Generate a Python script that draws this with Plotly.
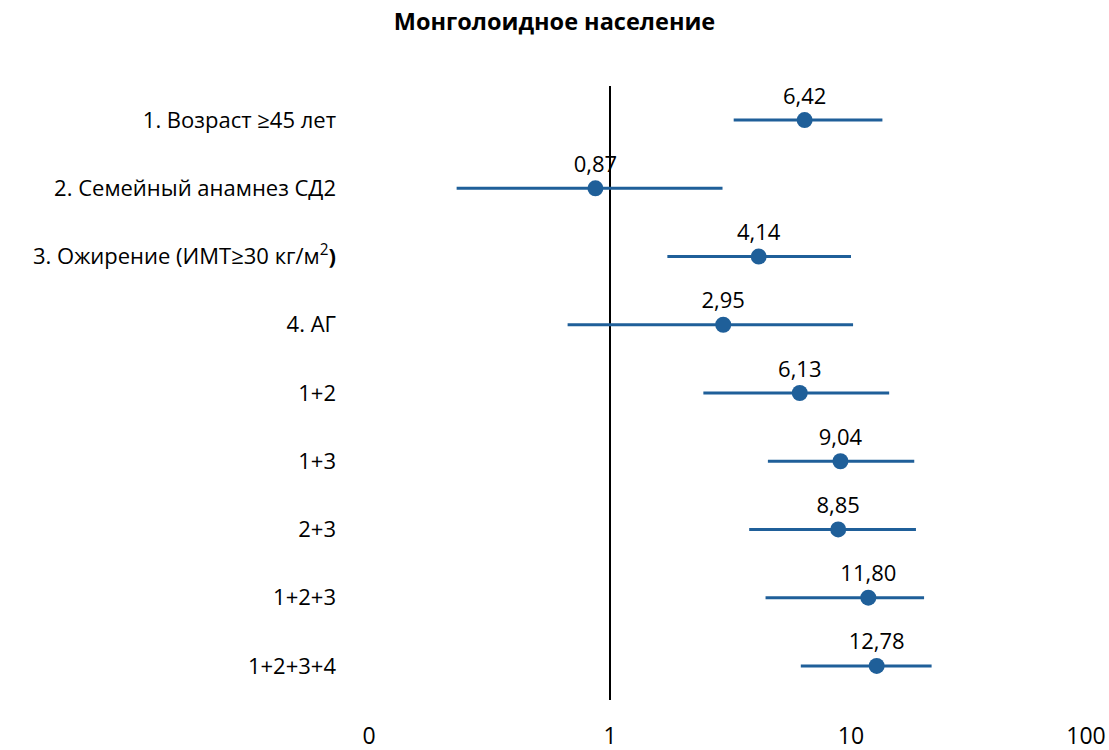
import plotly.graph_objects as go

categories = [
    "1. Возраст ≥45 лет",
    "2. Семейный анамнез СД2",
    "3. Ожирение (ИМТ≥30 кг/м<sup>2</sup><b>)</b>",
    "4. АГ",
    "1+2",
    "1+3",
    "2+3",
    "1+2+3",
    "1+2+3+4",
]
odds_ratio = [6.42, 0.87, 4.14, 2.95, 6.13, 9.04, 8.85, 11.80, 12.78]
ci_lower = [3.26, 0.231, 1.73, 0.667, 2.44, 4.52, 3.78, 4.42, 6.19]
ci_upper = [13.5, 2.93, 10.0, 10.2, 14.4, 18.3, 18.6, 20.1, 21.6]
x_tick_vals = [0.1, 1, 10, 100]
x_tick_text = ["0", "1", "10", "100\u00a0\u00a0"]
title_text = "Монголоидное население"

FONT = "Open Sans"
BLUE = "#1f5f99"
FS = 22

ypos = list(range(len(categories)))
labels = [f"{v:.2f}".replace(".", ",") for v in odds_ratio]

fig = go.Figure()
fig.add_trace(go.Scatter(
    x=[1, 1], y=[-0.5, len(categories) - 0.5], mode="lines",
    line=dict(color="black", width=2), hoverinfo="skip", showlegend=False,
))
fig.add_trace(go.Scatter(
    x=odds_ratio, y=ypos, mode="markers+text",
    marker=dict(color=BLUE, size=16, symbol="circle"),
    error_x=dict(type="data", symmetric=False,
                 array=[u - o for u, o in zip(ci_upper, odds_ratio)],
                 arrayminus=[o - l for o, l in zip(odds_ratio, ci_lower)],
                 color=BLUE, thickness=3, width=0),
    text=labels, textposition="top center",
    textfont=dict(family=FONT, size=FS, color="black"),
    showlegend=False,
))

fig.update_layout(
    width=1109, height=750,
    paper_bgcolor="white", plot_bgcolor="white",
    margin=dict(l=369, r=17, t=86, b=50, autoexpand=False),
    title=dict(text=f"<b>{title_text}</b>", x=0.5, xanchor="center",
               y=0.971, yanchor="middle",
               font=dict(family=FONT, size=23.5, color="black")),
    font=dict(family=FONT, size=FS, color="black"),
    xaxis=dict(type="log", range=[-1, 2], tickvals=x_tick_vals, ticktext=x_tick_text,
               showgrid=False, zeroline=False, showline=False, ticks="",
               automargin=False, ticklabeloverflow="allow",
               ticklabelstandoff=20, tickfont=dict(family=FONT, size=23)),
    yaxis=dict(range=[len(categories) - 0.5, -0.5], tickvals=ypos, ticktext=categories,
               showgrid=False, zeroline=False, showline=False, ticks="",
               automargin=False,
               ticklabelstandoff=32, tickfont=dict(family=FONT, size=FS)),
)

fig.write_html(
    "out.html",
    config={"displayModeBar": False},
    post_script="document.body.style.margin='0';document.body.style.overflow='hidden';",
)
